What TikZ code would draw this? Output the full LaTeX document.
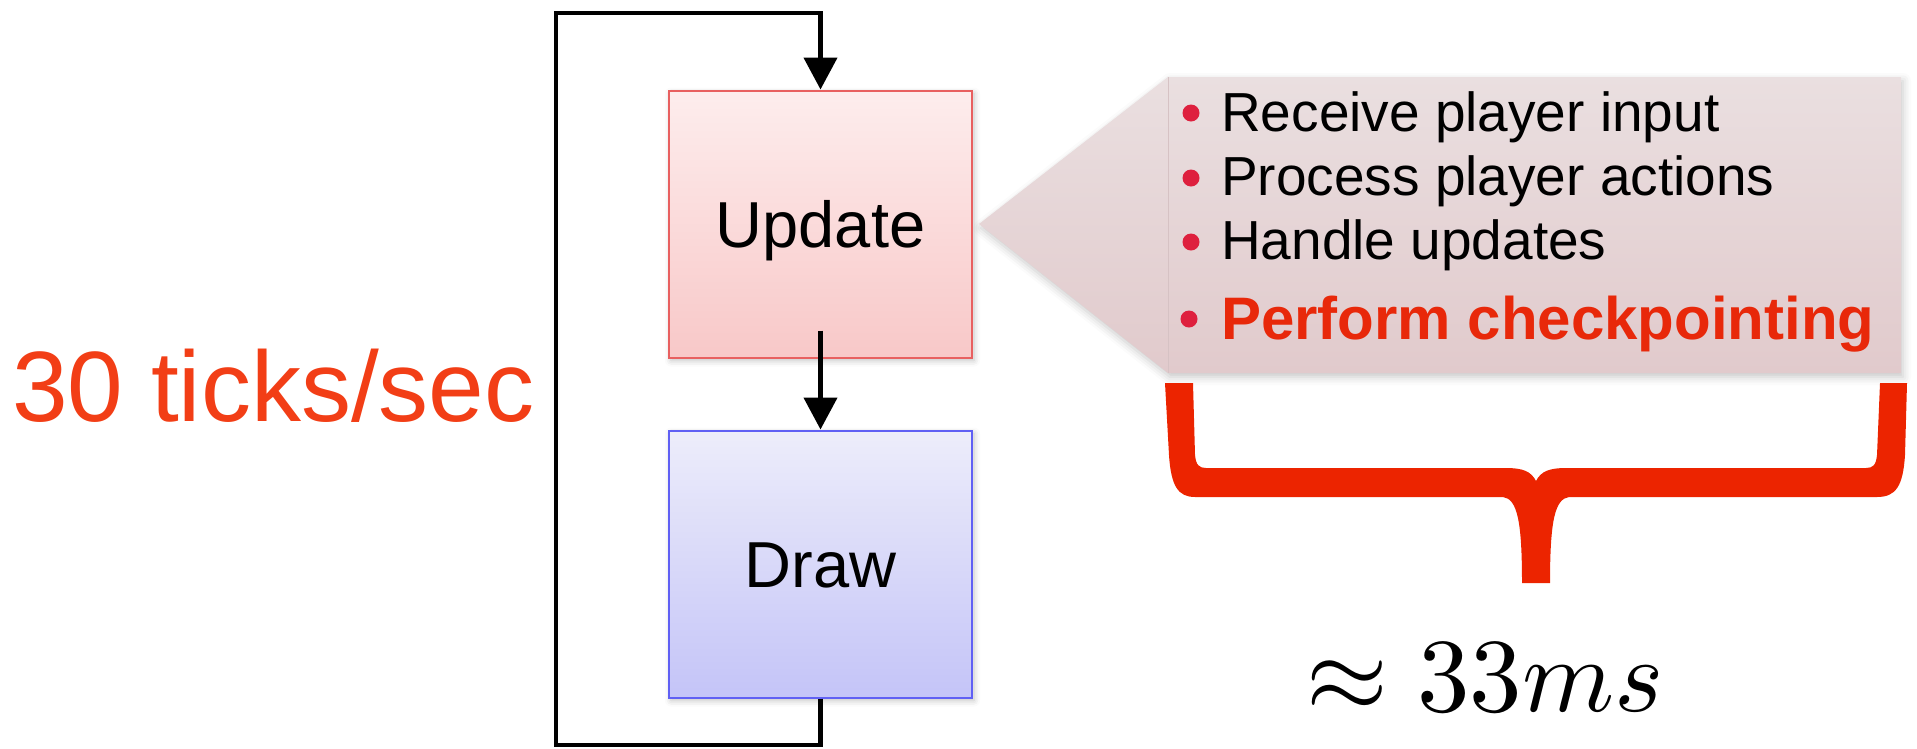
\documentclass[tikz,border=0pt]{standalone}
\usepackage{graphicx}
\usepackage{fontspec}
\setmainfont{Liberation Sans}
\usetikzlibrary{arrows.meta,shadows.blur}

\definecolor{upTop}{RGB}{253,237,237}
\definecolor{upBot}{RGB}{248,200,200}
\definecolor{upLine}{RGB}{232,96,96}
\definecolor{drTop}{RGB}{237,237,250}
\definecolor{drBot}{RGB}{196,196,248}
\definecolor{drLine}{RGB}{96,96,244}
\definecolor{noteTop}{RGB}{234,223,224}
\definecolor{noteBot}{RGB}{225,202,204}
\definecolor{noteEdge}{RGB}{214,194,196}
\definecolor{dotRed}{RGB}{222,32,62}
\definecolor{keyRed}{RGB}{232,40,10}
\definecolor{braceRed}{RGB}{236,36,0}
\definecolor{rateRed}{RGB}{242,62,22}

\begin{document}
\begin{tikzpicture}[x=1pt,y=-1pt,
  stagebox/.style={minimum width=303pt, minimum height=267pt, inner sep=0pt,
    line width=2pt, text height=46.5pt, text depth=0pt,
    font=\fontsize{65}{78}\selectfont,
    blur shadow={shadow xshift=2pt, shadow yshift=-3pt, shadow opacity=25, shadow blur radius=6pt}},
  loopline/.style={line width=4.5pt, draw=black},
  loophead/.style={-{Triangle[width=33pt,length=32pt]}},
  itemdot/.style={circle, fill=dotRed, inner sep=0pt, minimum size=17pt},
  itemtext/.style={anchor=base west, inner sep=0pt, font=\fontsize{55}{66}\selectfont},
]
\useasboundingbox (0,0) rectangle (1917,748);

% game-loop stages
\node[stagebox, top color=upTop, bottom color=upBot, draw=upLine] (up) at (820.5,224) {Update};
\node[stagebox, top color=drTop, bottom color=drBot, draw=drLine] (dr) at (820.5,564) {Draw};

% loop back from Draw to Update
\coordinate (bl) at (556,745);
\coordinate (tl) at (556,13);
\draw[loopline, loophead] (dr.south) |- (bl) -- (tl) -| (up.north);
\draw[loopline, loophead] ([yshift=28pt]up.south) -- (dr.north);

% rate label
\node[anchor=base west, inner sep=0pt, text=rateRed, font=\fontsize{100}{120}\selectfont] (rate) at (12,421) {30 ticks/sec};

% callout attached to the Update stage
\coordinate (tip) at ([xshift=6pt]up.east);
\coordinate (ntl) at (1168,77);
\coordinate (ntr) at (1901,77);
\coordinate (nbr) at (1901,373);
\coordinate (nbl) at (1168,373);
\path[top color=noteTop, bottom color=noteBot,
  blur shadow={shadow xshift=2pt, shadow yshift=-4pt, shadow opacity=22, shadow blur radius=8pt}]
  (tip) -- (ntl) -- (ntr) -- (nbr) -- (nbl) -- cycle;
\draw[noteEdge, line width=1pt] (ntl) -- (nbl);

\node[itemdot] (d1) at (1191,113) {};
\node[itemdot] (d2) at (1191,178) {};
\node[itemdot] (d3) at (1191,242) {};
\node[itemdot] (d4) at (1189,319) {};
\node[itemtext] (i1) at (1221,131) {Receive player input};
\node[itemtext] (i2) at (1221,195) {Process player actions};
\node[itemtext] (i3) at (1221,259) {Handle updates};
\node[itemtext, text=keyRed, font=\fontsize{60}{72}\selectfont\bfseries] (i4) at (1221,339) {Perform checkpointing};

% brace under the callout
\fill[braceRed]
  (1165,383) -- (1169,455) .. controls (1171,486) and (1178,497) .. (1195,497)
  -- (1503,497) .. controls (1517,499) and (1522,520) .. (1522,583)
  -- (1550,583) .. controls (1550,520) and (1555,499) .. (1569,497)
  -- (1877,497) .. controls (1896,497) and (1903,486) .. (1905,455)
  -- (1907,383) -- (1880,383) -- (1877,455)
  .. controls (1876,465) and (1873,468) .. (1866,468)
  -- (1566,468) .. controls (1550,468) and (1541,471) .. (1536,481)
  .. controls (1531,471) and (1522,468) .. (1506,468)
  -- (1206,468) .. controls (1199,468) and (1196,465) .. (1195,455)
  -- (1193,383) -- cycle;

% duration label
\node[anchor=base, inner sep=0pt] (dur) at (1485,711) {\scalebox{10.5}{$\approx 33ms$}};
\end{tikzpicture}
\end{document}
